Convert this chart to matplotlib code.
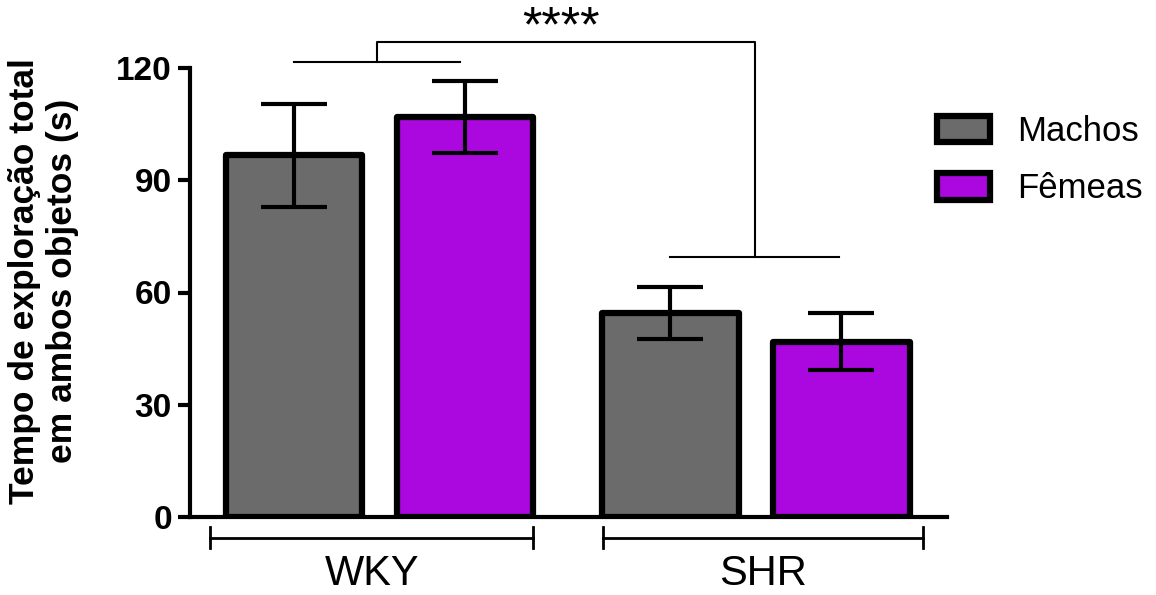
import matplotlib.pyplot as plt
import numpy as np
from matplotlib.patches import Patch

plt.rcParams['font.family'] = ['Liberation Sans', 'DejaVu Sans']

groups = ['WKY', 'SHR']
series = ['Machos', 'Fêmeas']
means = {'Machos': [96.7, 54.6], 'Fêmeas': [106.9, 46.9]}
sems = {'Machos': [13.8, 7.0], 'Fêmeas': [9.6, 7.7]}
colors = {'Machos': '#6b6b6b', 'Fêmeas': '#aa08df'}
yticks = [0, 30, 60, 90, 120]
sig_label = '****'

group_x = np.array([0.0, 2.2])
offsets = {'Machos': 0.0, 'Fêmeas': 1.0}
width = 0.8

fig = plt.figure(figsize=(11.56, 5.95), dpi=100)
ax = fig.add_axes([190/1156, 1-517/595, (947-190)/1156, (517-68)/595])

for s in series:
    xs = group_x + offsets[s]
    ax.bar(xs, means[s], width=width, color=colors[s], edgecolor='black',
           linewidth=4.5, joinstyle='round', zorder=2)
    ax.errorbar(xs, means[s], yerr=sems[s], fmt='none', ecolor='black',
                elinewidth=3, capsize=24, capthick=3, zorder=3)

ax.set_xlim(-0.608, 3.819)
ax.set_ylim(0, 120)
ax.set_yticks(yticks)
ax.set_xticks([])
for sp in ['top', 'right']:
    ax.spines[sp].set_visible(False)
ax.spines['left'].set_linewidth(3)
ax.spines['bottom'].set_linewidth(3)
ax.tick_params(axis='y', length=9, width=3, labelsize=24, pad=4)
for lab in ax.get_yticklabels():
    lab.set_fontweight('bold')

ax.set_ylabel('Tempo de exploração total\nem ambos objetos (s)', fontsize=25.5,
              fontweight='bold', linespacing=1.2)
ax.yaxis.set_label_coords(-0.146, 0.525)

# group brackets under the axis
lw_b = 2
brackets = [(-0.49, 1.40), (-0.393, 1.478)]
for gx, name, (b0, b1) in zip(group_x, groups, brackets):
    x0, x1 = gx + b0, gx + b1
    yb = -5.6
    ax.plot([x0, x1], [yb, yb], color='black', lw=lw_b, clip_on=False)
    ax.plot([x0, x0], [yb - 2.8, yb + 2.8], color='black', lw=lw_b, clip_on=False)
    ax.plot([x1, x1], [yb - 2.8, yb + 2.8], color='black', lw=lw_b, clip_on=False)
    ax.text((x0 + x1) / 2, -10, name, ha='center', va='top', fontsize=30)

# significance bracket
kw = dict(color='black', lw=1.5, clip_on=False)
wl, wr = group_x[0], group_x[0] + 0.97
sl, sr = group_x[1], group_x[1] + 0.99
wm, sm = (wl + wr) / 2, (sl + sr) / 2
y_w, y_top, y_s = 121.6, 127.0, 69.5
ax.plot([wl, wr], [y_w, y_w], **kw)
ax.plot([sl, sr], [y_s, y_s], **kw)
ax.plot([wm, wm, sm, sm], [y_w, y_top, y_top, y_s], **kw)
ax.text((wm + sm) / 2 - 0.03, 127.2, sig_label, ha='center', va='baseline',
        fontsize=36)

handles = [Patch(facecolor=colors[s], edgecolor='black', linewidth=4.5,
                 joinstyle='round', label=s) for s in series]
fig.legend(handles=handles, loc='upper left', bbox_to_anchor=(937/1156, 1-115/595),
           frameon=False, fontsize=25, handlelength=1.53, handleheight=0.8,
           handletextpad=0.78, labelspacing=0.7, borderpad=0, borderaxespad=0)

fig.savefig('out.png', dpi=100)
